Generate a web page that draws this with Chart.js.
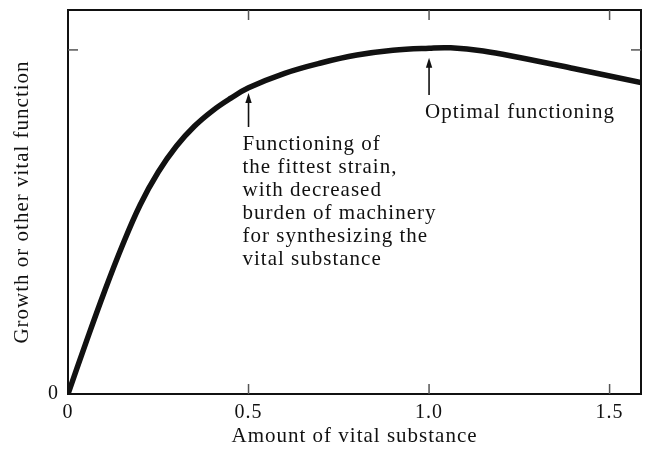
<!DOCTYPE html>
<html>
<head>
<meta charset="utf-8">
<script src="https://cdn.jsdelivr.net/npm/chart.js@4/dist/chart.umd.min.js"></script>
<style>
  html, body { margin: 0; padding: 0; background: #ffffff; }
  #wrap { width: 646px; height: 449px; }
</style>
</head>
<body>
<div id="wrap"><canvas id="c" width="646" height="449"></canvas></div>
<script>
// ---- data ----
const amount = [0, 0.05, 0.1, 0.15, 0.2, 0.25, 0.3, 0.35, 0.4, 0.45, 0.5, 0.6, 0.7, 0.8, 0.9, 1.0, 1.06, 1.15, 1.25, 1.4, 1.587];
const growth = [0, 0.15, 0.295, 0.43, 0.55, 0.645, 0.72, 0.778, 0.823, 0.859, 0.89, 0.932, 0.962, 0.985, 0.999, 1.005, 1.006, 0.997, 0.978, 0.946, 0.905];
const xTicks = [0, 0.5, 1.0, 1.5];
const xTickLabels = ['0', '0.5', '1.0', '1.5'];
const yTicks = [0, 1];
const yTickLabels = ['0', ''];
const xTitle = 'Amount of vital substance';
const yTitle = 'Growth or other vital function';
const arrowX = [0.5, 1.0];
const arrowTip = [0.875, 0.977];
const arrowTail = [0.776, 0.869];
const note1 = ['Functioning of', 'the fittest strain,', 'with decreased', 'burden of machinery', 'for synthesizing the', 'vital substance'];
const note2 = ['Optimal functioning'];
const notes = [note1, note2];

const FONT = 'Liberation Serif';
const LS = '1px';
const INK = '#111111';

const annot = {
  id: 'annot',
  beforeUpdate(chart) { chart.ctx.letterSpacing = LS; },
  beforeDraw(chart) {
    const c = chart.ctx;
    c.save();
    c.fillStyle = '#ffffff';
    c.fillRect(0, 0, chart.width, chart.height);
    c.restore();
    c.letterSpacing = LS;
  },
  afterDraw(chart) {
    const { ctx, chartArea: a, scales: { x, y } } = chart;
    const line = (x1, y1, x2, y2) => { ctx.beginPath(); ctx.moveTo(x1, y1); ctx.lineTo(x2, y2); ctx.stroke(); };
    ctx.save();
    // frame
    ctx.strokeStyle = INK; ctx.lineWidth = 2;
    ctx.strokeRect(a.left, a.top, a.right - a.left, a.bottom - a.top);
    // inward tick marks
    ctx.strokeStyle = '#555'; ctx.lineWidth = 1.5;
    xTicks.forEach(v => {
      if (v === 0) return;
      const px = x.getPixelForValue(v);
      line(px, a.top, px, a.top + 10);
      line(px, a.bottom, px, a.bottom - 10);
    });
    yTicks.forEach(v => {
      if (v === 0) return;
      const py = y.getPixelForValue(v);
      line(a.left, py, a.left + 10, py);
      line(a.right, py, a.right - 10, py);
    });
    // arrows + notes
    ctx.fillStyle = INK; ctx.strokeStyle = INK;
    ctx.font = '21px "' + FONT + '"';
    ctx.letterSpacing = LS;
    ctx.textAlign = 'left'; ctx.textBaseline = 'alphabetic';
    arrowX.forEach((v, i) => {
      const px = x.getPixelForValue(v);
      const tip = y.getPixelForValue(arrowTip[i]);
      const tail = y.getPixelForValue(arrowTail[i]);
      ctx.lineWidth = 1.6;
      line(px, tail, px, tip + 6);
      ctx.beginPath();
      ctx.moveTo(px, tip);
      ctx.lineTo(px - 3.2, tip + 10);
      ctx.lineTo(px + 3.2, tip + 10);
      ctx.closePath();
      ctx.fill();
      const left = px - (i === 0 ? 6 : 4);
      notes[i].forEach((t, k) => {
        ctx.fillText(t, left, tail + 23 + k * 23);
      });
    });
    ctx.restore();
  }
};

const pts = amount.map((v, i) => ({ x: v, y: growth[i] }));

new Chart(document.getElementById('c'), {
  type: 'line',
  data: {
    datasets: [{
      data: pts,
      borderColor: '#111',
      borderWidth: 5.5,
      borderCapStyle: 'round',
      pointRadius: 0,
      tension: 0.4,
      fill: false
    }]
  },
  options: {
    responsive: false,
    animation: false,
    devicePixelRatio: 1,
    layout: { padding: { top: 10, right: 5, left: 0, bottom: 0 } },
    plugins: { legend: { display: false }, tooltip: { enabled: false } },
    scales: {
      x: {
        type: 'linear', min: 0, max: 1.587,
        afterBuildTicks: s => { s.ticks = xTicks.map(v => ({ value: v })); },
        afterFit: s => { s.height = 55; s.paddingLeft = 0; s.paddingRight = 0; },
        grid: { display: false, drawTicks: false },
        border: { display: false },
        ticks: {
          autoSkip: false, maxRotation: 0, padding: 7,
          color: INK, font: { family: FONT, size: 20 },
          callback: (v, i) => xTickLabels[i]
        },
        title: { display: true, text: xTitle, color: INK, font: { family: FONT, size: 21 }, padding: 0 }
      },
      y: {
        type: 'linear', min: 0, max: 1.116,
        afterBuildTicks: s => { s.ticks = yTicks.map(v => ({ value: v })); },
        afterFit: s => { s.width = 68; s.paddingTop = 0; s.paddingBottom = 0; },
        grid: { display: false, drawTicks: false },
        border: { display: false },
        ticks: {
          autoSkip: false, padding: 9,
          color: INK, font: { family: FONT, size: 20 },
          callback: (v, i) => yTickLabels[i]
        },
        title: { display: true, text: yTitle, color: INK, font: { family: FONT, size: 21 }, padding: { top: 10, bottom: 0 } }
      }
    }
  },
  plugins: [annot]
});
</script>
</body>
</html>
